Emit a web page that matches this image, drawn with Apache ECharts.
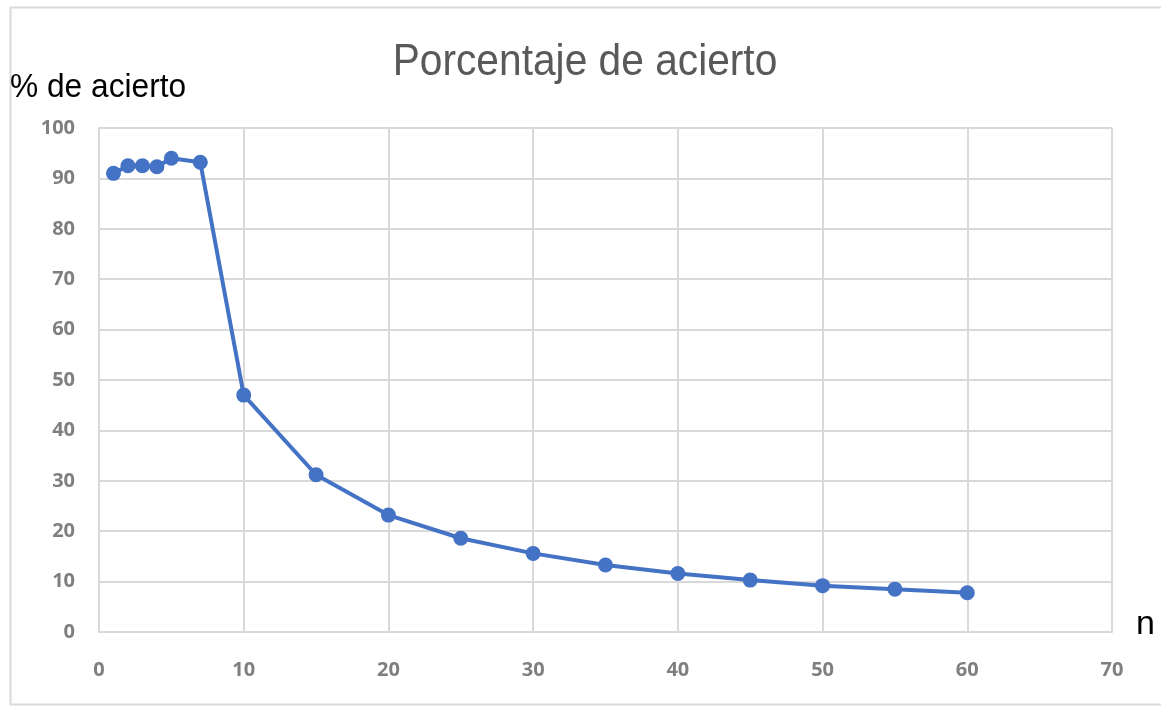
<!DOCTYPE html>
<html><head><meta charset="utf-8">
<script src="https://cdn.jsdelivr.net/npm/echarts@6/dist/echarts.min.js"></script>
<style>html,body{margin:0;padding:0;background:#fff}#c{width:1161px;height:706px}</style>
</head><body><div id="c"></div>
<script>
const nValues = [1, 2, 3, 4, 5, 7, 10, 15, 20, 25, 30, 35, 40, 45, 50, 55, 60];
const aciertoValues = [91.0, 92.5, 92.5, 92.3, 94.0, 93.2, 47.0, 31.2, 23.2, 18.6, 15.6, 13.3, 11.6, 10.3, 9.2, 8.5, 7.8];
const titleText = 'Porcentaje de acierto';
const yAxisName = '% de acierto';
const xAxisName = 'n';

const chart = echarts.init(document.getElementById('c'));
const font = '"Liberation Sans", sans-serif';
chart.setOption({
  animation: false,
  backgroundColor: '#fff',
  graphic: [
    {type: 'rect', shape: {x: 10.5, y: 7.5, width: 1160, height: 697}, style: {fill: 'none', stroke: '#d9d9d9', lineWidth: 2}, silent: true},
    {type: 'text', x: 585, y: 63, scaleX: 0.925, style: {text: titleText, font: '44px ' + font, fill: '#595959', align: 'center', verticalAlign: 'middle'}},
    {type: 'text', x: 10, y: 88, scaleX: 0.96, style: {text: yAxisName, font: '33px ' + font, fill: '#000', verticalAlign: 'middle'}},
    {type: 'text', left: 1136, top: 608, style: {text: xAxisName, font: '34px ' + font, fill: '#000'}}
  ],
  grid: {left: 99, right: 49, top: 128, bottom: 74},
  xAxis: {
    type: 'value', min: 0, max: 70, interval: 10,
    axisLine: {show: true, lineStyle: {color: '#d9d9d9', width: 2}},
    axisTick: {show: false},
    splitLine: {show: true, lineStyle: {color: '#d9d9d9', width: 2}},
    axisLabel: {color: '#7f7f7f', fontSize: 20, fontWeight: 'bold', fontFamily: 'Open Sans, sans-serif', margin: 28}
  },
  yAxis: {
    type: 'value', min: 0, max: 100, interval: 10,
    axisLine: {show: true, lineStyle: {color: '#d9d9d9', width: 2}},
    axisTick: {show: false},
    splitLine: {show: true, lineStyle: {color: '#d9d9d9', width: 2}},
    axisLabel: {color: '#7f7f7f', fontSize: 20, fontWeight: 'bold', fontFamily: 'Open Sans, sans-serif', margin: 24}
  },
  series: [{
    type: 'line',
    data: nValues.map((n, i) => [n, aciertoValues[i]]),
    symbol: 'circle', symbolSize: 15,
    lineStyle: {color: '#4472c4', width: 4},
    itemStyle: {color: '#4472c4'}
  }]
});
</script></body></html>
